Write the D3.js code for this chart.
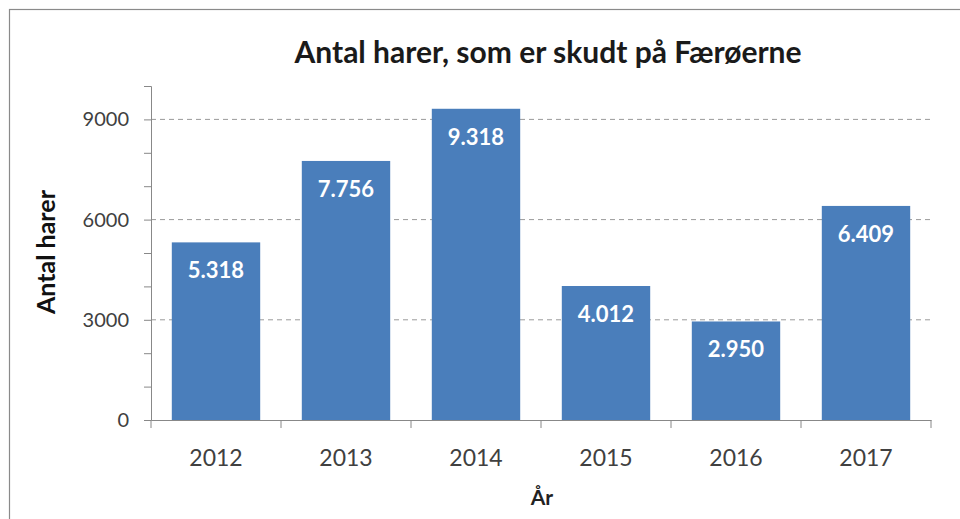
<!DOCTYPE html>
<html>
<head>
<meta charset="utf-8">
<script src="https://cdn.jsdelivr.net/npm/d3@7"></script>
<style>
  body { margin: 0; background: #fff; }
  svg, svg text { font-family: Lato, "Open Sans", sans-serif; }
</style>
</head>
<body>
<svg id="chart"></svg>
<script>
// chart data
const years = ['2012', '2013', '2014', '2015', '2016', '2017'];
const hares = [5318, 7756, 9318, 4012, 2950, 6409];
const barLabels = ['5.318', '7.756', '9.318', '4.012', '2.950', '6.409'];
const yLabelTicks = [0, 3000, 6000, 9000];
const yMinorTicks = [0, 1000, 2000, 3000, 4000, 5000, 6000, 7000, 8000, 9000, 10000];

const width = 960, height = 519;
const margin = {top: 86, right: 29, bottom: 99, left: 151};
const innerW = width - margin.left - margin.right;
const innerH = height - margin.top - margin.bottom;

const svg = d3.select('#chart')
    .attr('width', width)
    .attr('height', height);

// outer frame
svg.append('rect')
    .attr('x', 9.5).attr('y', 9.5)
    .attr('width', width + 10).attr('height', height + 10)
    .attr('fill', 'none')
    .attr('stroke', '#8a8a8a')
    .attr('stroke-width', 1.2);

const chart = svg.append('g')
    .attr('transform', `translate(${margin.left},${margin.top})`);

const xScale = d3.scaleBand()
    .domain(years)
    .range([0, innerW])
    .paddingInner(0.32)
    .paddingOuter(0.16);

const yScale = d3.scaleLinear()
    .domain([0, 10000])
    .range([innerH, 0]);

// gridlines
chart.append('g')
    .selectAll('line')
    .data(yLabelTicks.filter(d => d > 0))
    .join('line')
    .attr('x1', 0)
    .attr('x2', innerW)
    .attr('y1', d => yScale(d))
    .attr('y2', d => yScale(d))
    .attr('stroke', '#9a9a9a')
    .attr('stroke-width', 1)
    .attr('stroke-dasharray', '5,4');

// bars
chart.selectAll('.bar')
    .data(years)
    .join('rect')
    .attr('class', 'bar')
    .attr('x', d => xScale(d))
    .attr('width', xScale.bandwidth())
    .attr('y', (d, i) => yScale(hares[i]))
    .attr('height', (d, i) => innerH - yScale(hares[i]))
    .attr('fill', '#4a7ebb');

// value labels
chart.selectAll('.bar-label')
    .data(years)
    .join('text')
    .attr('class', 'bar-label')
    .attr('x', d => xScale(d) + xScale.bandwidth() / 2)
    .attr('y', (d, i) => yScale(hares[i]) + 36)
    .attr('text-anchor', 'middle')
    .attr('fill', '#fff')
    .style('font-size', '22px')
    .style('font-weight', 'bold')
    .text((d, i) => barLabels[i]);

// y axis with minor ticks
const yAxis = d3.axisLeft(yScale)
    .tickValues(yMinorTicks)
    .tickSize(7)
    .tickFormat(d => yLabelTicks.includes(d) ? d : '');

const yAxisG = chart.append('g')
    .call(yAxis);
yAxisG.selectAll('.domain, line').attr('stroke', '#888');
yAxisG.selectAll('text')
    .attr('x', -22)
    .attr('fill', '#404040')
    .style('font-size', '20px');

// x axis: ticks between categories
const xAxisG = chart.append('g')
    .attr('transform', `translate(0,${innerH})`)
    .call(d3.axisBottom(xScale).tickSize(0).tickPadding(30));
xAxisG.select('.domain').attr('stroke', '#888');
xAxisG.selectAll('text')
    .attr('fill', '#404040')
    .style('font-size', '23px');

const step = xScale.step();
xAxisG.selectAll('.sep')
    .data(d3.range(years.length + 1))
    .join('line')
    .attr('class', 'sep')
    .attr('x1', i => i * step)
    .attr('x2', i => i * step)
    .attr('y1', 0)
    .attr('y2', 8)
    .attr('stroke', '#888');

// title
svg.append('text')
    .attr('x', 548)
    .attr('y', 63)
    .attr('text-anchor', 'middle')
    .attr('fill', '#1a1a1a')
    .style('font-size', '30px')
    .style('font-weight', 'bold')
    .text('Antal harer, som er skudt på Færøerne');

// axis titles
svg.append('text')
    .attr('transform', `translate(55,${margin.top + innerH / 2 - 1}) rotate(-90)`)
    .attr('text-anchor', 'middle')
    .attr('fill', '#111')
    .style('font-size', '25px')
    .style('font-weight', 'bold')
    .text('Antal harer');

svg.append('text')
    .attr('x', 542)
    .attr('y', 505)
    .attr('text-anchor', 'middle')
    .attr('fill', '#222')
    .style('font-size', '21px')
    .style('font-weight', 'bold')
    .text('År');
</script>
</body>
</html>
